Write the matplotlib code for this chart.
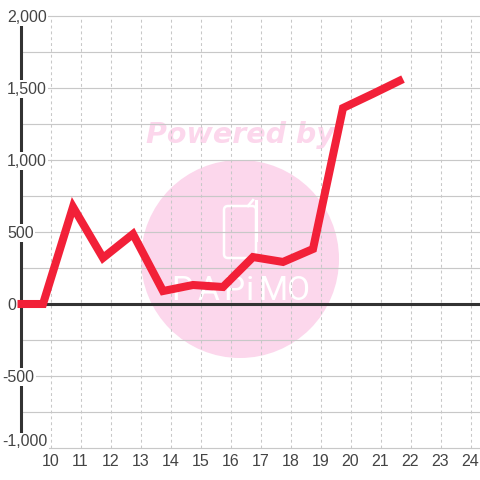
import matplotlib
matplotlib.use('Agg')
import matplotlib.pyplot as plt
from matplotlib.patches import Circle, FancyBboxPatch

hours = [8.9, 9.75, 10.75, 11.75, 12.75, 13.75, 14.75, 15.75, 16.75, 17.75, 18.75, 19.75, 20.75, 21.75]
values = [0, 0, 674, 320, 486, 90, 132, 118, 326, 292, 382, 1361, 1460, 1562]
x_ticks = list(range(10, 25))
y_ticks = [-1000, -500, 0, 500, 1000, 1500, 2000]
y_labels = ['-1,000', '-500', '0', '500', '1,000', '1,500', '2,000']
y_minor = [-750, -250, 250, 750, 1250, 1750]
logo_letters = ['P', 'A', 'P', 'i', 'M', 'O']
logo_x = [182, 208, 234, 250, 273, 299]

plt.rcParams['font.family'] = ['Liberation Sans', 'DejaVu Sans']
fig = plt.figure(figsize=(4.8, 4.8), dpi=100)


# axes fill the whole figure, limits worked out from the pixel positions
def px_x(v):
    return 10 + (v - 50.5) / 30


def px_y(v):
    return (304 - v) * 500 / 72


# watermark sits below the main axes, in pixel coordinates
bg = fig.add_axes([0, 0, 1, 1], zorder=0)
bg.set_xlim(0, 480)
bg.set_ylim(480, 0)
bg.axis('off')
bg.add_patch(Circle((240, 259), 99, color='#fcd7ec', lw=0))
bg.text(240, 135, 'Powered by', color='#fcd7ec', fontsize=20.5, fontweight='bold', fontstyle='italic',
        ha='center', va='center', family='DejaVu Sans')
bg.add_patch(FancyBboxPatch((224, 206), 32, 52, boxstyle='round,pad=0,rounding_size=4', fc='none', ec='white', lw=1.8))
bg.plot([248, 253], [206, 200], color='white', lw=1.8)
bg.plot([256, 256], [201, 240], color='white', lw=2.2)
for letter, lx in zip(logo_letters, logo_x):
    bg.text(lx, 291, letter, color='white', fontsize=24, ha='center', va='center', family='Roboto')

ax = fig.add_axes([0, 0, 1, 1], zorder=1)
ax.set_xlim(px_x(0), px_x(480))
ax.set_ylim(px_y(480), px_y(0))
ax.axis('off')

# grid
for t in y_ticks + y_minor:
    x0 = 46 if t in (-1000, 2000) else 20
    ax.plot([px_x(x0), px_x(480)], [t, t], color='#c8c8c8', lw=0.85, zorder=2, solid_capstyle='butt')
for t in x_ticks:
    ax.plot([t, t], [px_y(448), px_y(16)], color='#c8c8c8', lw=0.75, ls=(0, (2.8, 2.8)), zorder=2)

# axis lines
ax.plot([px_x(20.5), px_x(20.5)], [px_y(436), px_y(24)], color='#333333', lw=2.2, zorder=3, solid_capstyle='butt')
ax.plot([px_x(20), px_x(480)], [0, 0], color='#333333', lw=2.2, zorder=3, solid_capstyle='butt')

# labels start at the same left edge, minus sign hangs out
for t, lab in zip(y_ticks, y_labels):
    x0 = 2 if lab.startswith('-') else 7
    y0 = px_y(442) if t == -1000 else t - 7
    ax.text(px_x(x0), y0, lab, ha='left', va='center', fontsize=11.5, color='#444444', zorder=4,
            bbox=dict(fc='white', ec='none', pad=1.2) if t != 0 else None)
for t in x_ticks:
    ax.text(t, px_y(462), str(t), ha='center', va='center', fontsize=11.5, color='#444444', zorder=4)

ax.plot(hours, values, color='#f22038', lw=5.8, zorder=5, solid_joinstyle='miter', solid_capstyle='butt')

fig.savefig('out.png', dpi=100)
